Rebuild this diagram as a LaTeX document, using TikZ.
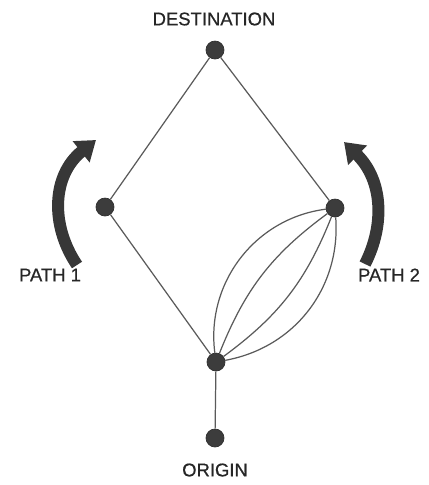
\documentclass[tikz,border=0pt]{standalone}
\usepackage{fontspec}
\setmainfont{Liberation Sans}
\newfontfamily\lblfont{Liberation Sans}[FakeBold=0.6]
\usepackage{xcolor}
\usetikzlibrary{arrows.meta, positioning}
\definecolor{DotGray}{RGB}{60, 60, 60}
\definecolor{LineGray}{RGB}{90, 90, 90}
\definecolor{ArrowDark}{RGB}{55, 55, 55}

\begin{document}
\begin{tikzpicture}[
    x=0.02cm, y=-0.02cm,
    font=\lblfont\fontsize{10.5}{12}\selectfont,
    dot/.style={circle, fill=DotGray, draw=DotGray!80!black, inner sep=0pt, minimum size=0.36cm},
    link/.style={draw=LineGray, line width=0.7pt},
    bigarr/.style={draw=ArrowDark, line width=0.24cm, -{Triangle[length=0.38cm, width=0.52cm]}},
    lbl/.style={text=black!85}
]
\useasboundingbox (0,0) rectangle (429,485);

\node[dot] (dest) at (215,50) {};
\node[dot] (left) at (105,207) {};
\node[dot] (right) at (335,208) {};
\node[dot] (hub) at (216,362) {};
\node[dot] (orig) at (215,438) {};

\node[lbl] (dlabel) at (214,19) {DESTINATION};
\node[lbl] (olabel) at (215,470) {ORIGIN};
\node[lbl] (p1label) at (50,275) {PATH 1};
\node[lbl] (p2label) at (389,275) {PATH 2};

% path 1 and path 2 arrows
\coordinate (p1from) at (77,265);
\coordinate (p1to) at (96,140);
\coordinate (p2from) at (365,264);
\coordinate (p2to) at (344,142);
\draw[bigarr] (p1from) .. controls (50,225) and (52,175) .. (p1to);
\draw[bigarr] (p2from) .. controls (385,225) and (383,180) .. (p2to);

\draw[link] (dest) -- (left);
\draw[link] (dest) -- (right);
\draw[link] (left) -- (hub);
\draw[link] (hub) -- (orig);

\draw[link] (hub) to[bend left=45] (right);
\draw[link] (hub) to[bend left=16] (right);
\draw[link] (hub) to[bend right=16] (right);
\draw[link] (hub) to[bend right=42] (right);

\end{tikzpicture}
\end{document}
